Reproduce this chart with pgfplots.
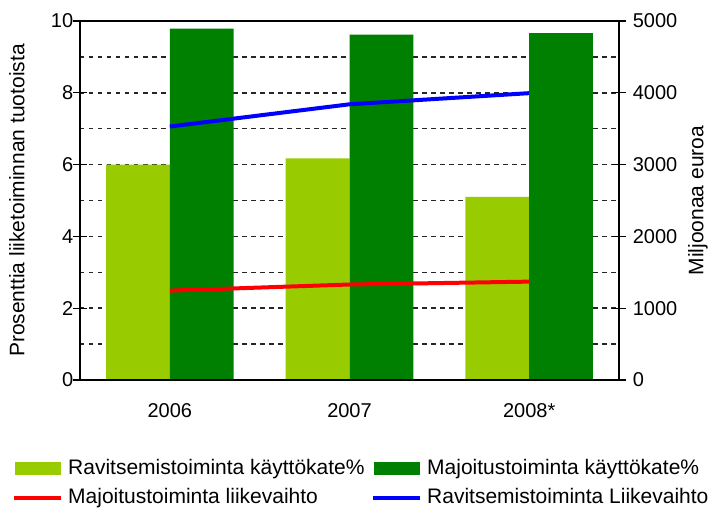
\documentclass[border=0pt]{standalone}
\usepackage{fontspec}
\setmainfont{Liberation Sans}
\usepackage{pgfplots}
\pgfplotsset{compat=1.18}
\definecolor{lgreen}{HTML}{99CC00}
\definecolor{dgreen}{HTML}{008000}
\begin{document}
\fontsize{20}{24}\selectfont
\begin{tikzpicture}
\pgfplotsset{
  every axis/.append style={
    scale only axis, width=539pt, height=359pt,
    at={(0,0)}, anchor=south west,
    xmin=-0.5, xmax=2.5,
    font=\fontsize{20}{24}\selectfont,
    /pgf/number format/assume math mode=true,
    axis line style={line width=1.3pt, black},
    tick style={line width=1.3pt, black},
    tick align=center,
    xtick={0,1,2}, xtick style={draw=none},
  },
}
\begin{axis}[
  ymin=0, ymax=10,
  ytick={0,1,...,10},
  yticklabels={0,,2,,4,,6,,8,,10},
  major tick length=0pt,
  ytick pos=left,
  ymajorgrids,
  grid style={black!85, line width=1.5pt, dash pattern=on 4.5pt off 4.5pt},
  extra y ticks={0,2,4,6,8,10},
  extra y tick labels={},
  extra y tick style={grid=none, major tick length=14pt},
  xticklabels={2006,2007,2008*},
  xticklabel style={yshift=-17pt},
  every axis y label/.style={at={(rel axis cs:-0.1169,0.5)}, anchor=center, rotate=90, font=\fontsize{21}{24}\selectfont},
  ylabel={Prosenttia liiketoiminnan tuotoista},
]
\addplot[ybar, bar width=0.355, bar shift=-0.1775, fill=lgreen, draw=none]
  coordinates {(0,6.0) (1,6.17) (2,5.10)};
\addplot[ybar, bar width=0.355, bar shift=0.1775, fill=dgreen, draw=none]
  coordinates {(0,9.79) (1,9.62) (2,9.66)};
\end{axis}
\begin{axis}[
  ymin=0, ymax=5000,
  ytick={0,1000,...,5000},
  major tick length=14pt,
  ytick pos=right,
  xticklabels={},
  scaled y ticks=false,
  yticklabel style={/pgf/number format/1000 sep={}},
  every axis y label/.style={at={(rel axis cs:1.1466,0.5)}, anchor=center, rotate=90, font=\fontsize{21}{24}\selectfont},
  ylabel={Miljoonaa euroa},
  legend columns=2,
  legend cell align=left,
  legend style={at={(0,0)}, anchor=north west, xshift=-68pt, yshift=-79pt,
    draw=none, fill=none, inner sep=0pt,
    nodes={inner sep=0pt, font=\fontsize{21}{24}\selectfont},
    row sep=11pt,
    /tikz/every odd column/.append style={column sep=5pt}},
]
\addlegendimage{legend image code/.code={\fill[lgreen] (0pt,-6pt) rectangle (45pt,6pt);}}
\addlegendentry{\makebox[303pt][l]{Ravitsemistoiminta käyttökate\%}}
\addlegendimage{legend image code/.code={\fill[dgreen] (0pt,-6pt) rectangle (45pt,6pt);}}
\addlegendentry{Majoitustoiminta käyttökate\%}
\addplot[red, line width=4pt, legend image code/.code={\draw[red, line width=4pt] (-1pt,0pt) -- (46pt,0pt);}]
  coordinates {(0,1245) (1,1330) (2,1370)};
\addlegendentry{Majoitustoiminta liikevaihto}
\addplot[blue, line width=4pt, legend image code/.code={\draw[blue, line width=4pt] (-1pt,0pt) -- (46pt,0pt);}]
  coordinates {(0,3530) (1,3840) (2,3995)};
\addlegendentry{Ravitsemistoiminta Liikevaihto}
\end{axis}
\pgfresetboundingbox
\path[use as bounding box] (-80pt,-128pt) rectangle (629pt,380pt);
\end{tikzpicture}
\end{document}
